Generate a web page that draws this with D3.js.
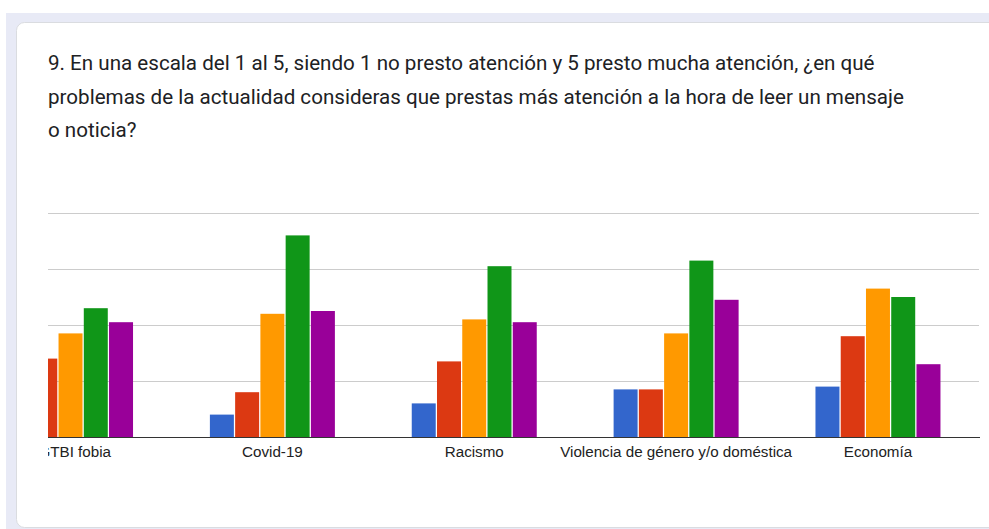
<!DOCTYPE html>
<html>
<head>
<meta charset="utf-8">
<script src="https://cdn.jsdelivr.net/npm/d3@7/dist/d3.min.js"></script>
<style>
  html, body { margin: 0; padding: 0; background: #ffffff; }
  svg { display: block; }
</style>
</head>
<body>
<script>
// Survey question 9: attention paid to current issues, rated 1 (none) to 5 (a lot)
const titleLines = [
  "9. En una escala del 1 al 5, siendo 1 no presto atención y 5 presto mucha atención, ¿en qué",
  "problemas de la actualidad consideras que prestas más atención a la hora de leer un mensaje",
  "o noticia?"
];

const categories = ["LGTBI fobia", "Covid-19", "Racismo", "Violencia de género y/o doméstica", "Economía"];
const seriesNames = ["1", "2", "3", "4", "5"];
const seriesColors = ["#3366cc", "#dc3912", "#ff9900", "#109618", "#990099"];

// responses per rating, one array per rating value, in category order
const rating1 = [32, 8, 12, 17, 18];
const rating2 = [28, 16, 27, 17, 36];
const rating3 = [37, 44, 42, 37, 53];
const rating4 = [46, 72, 61, 63, 50];
const rating5 = [41, 45, 41, 49, 26];
const seriesValues = [rating1, rating2, rating3, rating4, rating5];

const yTicks = [0, 20, 40, 60, 80];

const W = 989, H = 529;
const svg = d3.select("body").append("svg").attr("width", W).attr("height", H);

// page backdrop and card
svg.append("rect").attr("x", 6).attr("y", 13).attr("width", W).attr("height", H)
  .attr("fill", "#e8eaf6");
svg.append("rect").attr("x", 16.5).attr("y", 22.5).attr("width", W + 20).attr("height", 505)
  .attr("rx", 8).attr("ry", 8)
  .attr("fill", "#ffffff").attr("stroke", "#dadce0").attr("stroke-width", 1);

// question text
const title = svg.append("g");
const titleBaselines = [70, 103.5, 137];
titleLines.forEach((t, i) => {
  title.append("text")
    .attr("x", 48).attr("y", titleBaselines[i])
    .attr("font-family", "Roboto, 'Noto Sans', sans-serif")
    .attr("font-size", 20.6)
    .attr("fill", "#202124")
    .text(t);
});

// chart area (horizontally scrolled, clipped on both sides)
const clipLeft = 48, clipRight = 980;
svg.append("clipPath").attr("id", "plotClip")
  .append("rect").attr("x", clipLeft).attr("y", 150).attr("width", clipRight - clipLeft).attr("height", 340);

const chart = svg.append("g").attr("clip-path", "url(#plotClip)");

const x0 = d3.scaleBand().domain(categories).range([-30.4, 978.9]).padding(0);
const groupWidth = 125;
const x1 = d3.scaleBand().domain(seriesNames).range([0, groupWidth]).paddingInner(0.05);
const y = d3.scaleLinear().domain([0, 80]).range([437, 213]);

// gridlines
chart.append("g")
  .selectAll("line")
  .data(yTicks.slice(1))
  .join("line")
  .attr("x1", clipLeft).attr("x2", 979)
  .attr("y1", d => Math.round(y(d)) + 0.5).attr("y2", d => Math.round(y(d)) + 0.5)
  .attr("stroke", "#cccccc").attr("stroke-width", 1);

// bars
const groups = chart.append("g")
  .selectAll("g")
  .data(categories)
  .join("g")
  .attr("transform", c => `translate(${x0(c) + (x0.bandwidth() - groupWidth) / 2},0)`);

groups.selectAll("rect")
  .data((c, ci) => seriesNames.map((s, si) => ({ s, si, v: seriesValues[si][ci] })))
  .join("rect")
  .attr("x", d => x1(d.s))
  .attr("width", x1.bandwidth())
  .attr("y", d => y(d.v))
  .attr("height", d => y(0) - y(d.v))
  .attr("fill", d => seriesColors[d.si]);

// baseline
chart.append("line")
  .attr("x1", clipLeft).attr("x2", clipRight)
  .attr("y1", 437.5).attr("y2", 437.5)
  .attr("stroke", "#333333").attr("stroke-width", 1);

// category axis labels
const xAxis = d3.axisBottom(x0).tickSize(0).tickPadding(0);
const axisG = chart.append("g").attr("transform", "translate(0,446)").call(xAxis);
axisG.select(".domain").remove();
axisG.selectAll("text")
  .attr("dy", "0.71em")
  .attr("font-family", "Arial, 'Liberation Sans', sans-serif")
  .attr("font-size", 15.2)
  .attr("fill", "#222222");
</script>
</body>
</html>
